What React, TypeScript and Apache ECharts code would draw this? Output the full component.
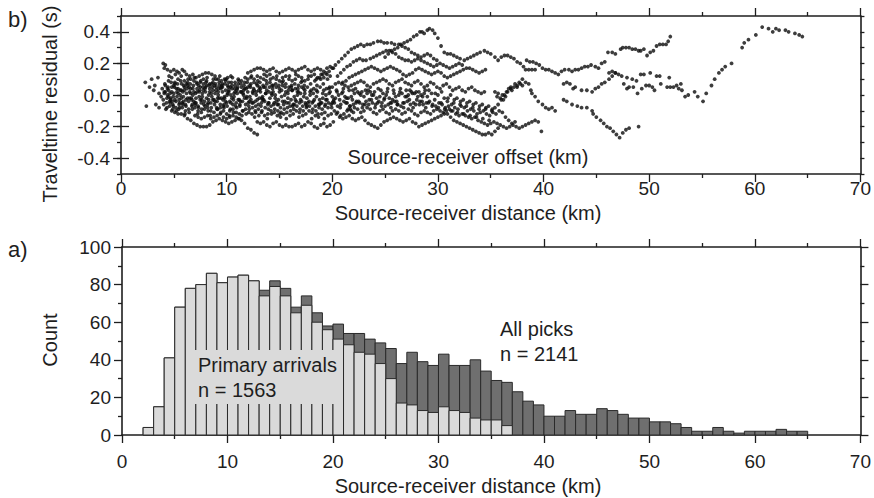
import React, { useEffect, useRef } from "react";
import * as echarts from "echarts";

// ---------- Histogram (panel a) ----------
const binStarts = [2,3,4,5,6,7,8,9,10,11,12,13,14,15,16,17,18,19,20,21,22,23,24,25,26,27,28,29,30,31,32,33,34,35,36,37,38,39,40,41,42,43,44,45,46,47,48,49,50,51,52,53,54,55,56,57,58,59,60,61,62,63,64];
const allPicksCounts = [4,15,41,68,78,80,86,81,84,85,82,77,82,78,68,74,65,58,59,54,54,51,49,46,38,44,39,37,43,37,37,40,34,29,28,23,18,16,10,10,13,11,11,14,13,11,9,9,7,7,6,4,2,2,4,2,1,2,2,2,3,2,2];
const primaryCounts = [4,15,41,68,78,80,86,81,84,85,82,74,79,74,65,69,60,56,51,48,44,43,38,30,17,16,13,12,15,13,12,9,8,8,5,0,0,0,0,0,0,0,0,0,0,0,0,0,0,0,0,0,0,0,0,0,0,0,0,0,0,0,0];
const binWidth = 1;

// ---------- Residuals (panel b), [distance km, residual s] pairs ----------
const residualStart = [2.3,0.08, 2.4,-0.07, 2.7,0.05, 2.9,0.10, 3.1,0.03, 3.2,0.06, 3.3,-0.06, 3.6,-0.08, 3.5,0.11];
const residualCoreA = [3.6,0.01, 3.9,0.04, 4.2,0.06, 4.5,0.03, 4.8,0.05, 5.1,0.07, 5.4,0.04, 5.7,0.03, 6.0,0.05, 6.3,0.06, 6.6,0.04, 6.9,0.02, 7.2,0.04, 7.5,0.05, 7.8,0.07, 8.1,0.06, 8.4,0.04, 8.7,0.03, 9.0,0.05, 9.3,0.06, 9.6,0.05, 9.9,0.03, 10.2,0.02, 10.5,0.04, 10.8,0.06, 11.1,0.07, 11.4,0.05, 11.7,0.04, 12.0,0.05, 12.3,0.07, 12.6,0.08, 12.9,0.06, 13.2,0.04, 13.5,0.05, 13.8,0.07, 14.1,0.08, 14.4,0.06, 14.7,0.05, 15.0,0.04, 15.3,0.06, 15.6,0.07, 15.9,0.05, 16.2,0.03, 16.5,0.04, 16.8,0.06, 17.1,0.05, 17.4,0.03];
const residualCoreB = [3.8,-0.01, 4.1,0.02, 4.4,0.00, 4.7,-0.02, 5.0,0.01, 5.3,0.02, 5.6,0.00, 5.9,-0.01, 6.2,0.01, 6.5,0.02, 6.8,0.00, 7.1,-0.02, 7.4,-0.01, 7.7,0.01, 8.0,0.02, 8.3,0.00, 8.6,-0.01, 8.9,0.01, 9.2,0.00, 9.5,-0.02, 9.8,-0.01, 10.1,0.01, 10.4,0.00, 10.7,-0.01, 11.0,0.01, 11.3,0.02, 11.6,0.00, 11.9,-0.02, 12.2,-0.01, 12.5,0.01, 12.8,0.00, 13.1,-0.02, 13.4,-0.01, 13.7,0.01, 14.0,0.02, 14.3,0.00, 14.6,-0.02, 14.9,-0.03, 15.2,-0.01, 15.5,0.00, 15.8,-0.02, 16.1,-0.03, 16.4,-0.01, 16.7,0.00, 17.0,0.01, 17.3,-0.01, 17.6,-0.02, 17.9,0.00, 18.2,0.01, 18.5,-0.01, 18.8,-0.03, 19.1,-0.02, 19.4,0.00, 19.7,0.01, 20.0,-0.01, 20.3,-0.02, 20.6,0.00, 20.9,0.01, 21.2,-0.01, 21.5,-0.02, 21.8,-0.01, 22.1,0.01, 22.4,0.02, 22.7,0.00, 23.0,-0.01, 23.3,0.01, 23.6,0.02, 23.9,0.00, 24.2,-0.02, 24.5,-0.01, 24.8,0.01, 25.1,0.00, 25.4,-0.02, 25.7,-0.03, 26.0,-0.01, 26.3,0.00, 26.6,0.01, 26.9,-0.01, 27.2,0.00, 27.5,0.02, 27.8,0.01, 28.1,-0.01, 28.4,0.00, 28.7,0.01, 29.0,-0.01];
const residualCoreC = [4.0,-0.03, 4.3,-0.05, 4.6,-0.04, 4.9,-0.06, 5.2,-0.04, 5.5,-0.03, 5.8,-0.05, 6.1,-0.06, 6.4,-0.04, 6.7,-0.03, 7.0,-0.05, 7.3,-0.07, 7.6,-0.05, 7.9,-0.04, 8.2,-0.06, 8.5,-0.05, 8.8,-0.03, 9.1,-0.04, 9.4,-0.06, 9.7,-0.07, 10.0,-0.05, 10.3,-0.04, 10.6,-0.06, 10.9,-0.05, 11.2,-0.03, 11.5,-0.04, 11.8,-0.06, 12.1,-0.07, 12.4,-0.05, 12.7,-0.04, 13.0,-0.06, 13.3,-0.05, 13.6,-0.04, 13.9,-0.06, 14.2,-0.07, 14.5,-0.05, 14.8,-0.06, 15.1,-0.08, 15.4,-0.06, 15.7,-0.05, 16.0,-0.07, 16.3,-0.06, 16.6,-0.04, 16.9,-0.05, 17.2,-0.07, 17.5,-0.06, 17.8,-0.04, 18.1,-0.05, 18.4,-0.07, 18.7,-0.06, 19.0,-0.05, 19.3,-0.07, 19.6,-0.08, 19.9,-0.06, 20.2,-0.05, 20.5,-0.07, 20.8,-0.06, 21.1,-0.04, 21.4,-0.05, 21.7,-0.07, 22.0,-0.06, 22.3,-0.04, 22.6,-0.05, 22.9,-0.06, 23.2,-0.04, 23.5,-0.03, 23.8,-0.05, 24.1,-0.06, 24.4,-0.04, 24.7,-0.05, 25.0,-0.07, 25.3,-0.06, 25.6,-0.05, 25.9,-0.04, 26.2,-0.06, 26.5,-0.07, 26.8,-0.05, 27.1,-0.04, 27.4,-0.06, 27.7,-0.05, 28.0,-0.03, 28.3,-0.04, 28.6,-0.06, 28.9,-0.05, 29.2,-0.04, 29.5,-0.06, 29.8,-0.07, 30.1,-0.05, 30.4,-0.06, 30.7,-0.08, 31.0,-0.07, 31.3,-0.06, 31.6,-0.08, 31.9,-0.09, 32.2,-0.07, 32.5,-0.08, 32.8,-0.10, 33.1,-0.09, 33.4,-0.10, 33.7,-0.12, 34.0,-0.11, 34.3,-0.10, 34.6,-0.12, 34.9,-0.13, 35.2,-0.11, 35.5,-0.12];
const residualCoreD = [4.5,0.09, 4.8,0.11, 5.1,0.08, 5.4,0.10, 5.7,0.12, 6.0,0.09, 6.3,0.08, 6.6,0.10, 6.9,0.09, 7.2,0.07, 7.5,0.08, 7.8,0.10, 8.1,0.09, 8.4,0.07, 8.7,0.08, 9.0,0.10, 9.3,0.08, 9.6,0.07, 9.9,0.09, 10.2,0.08, 10.5,0.06, 10.8,0.08, 11.1,0.10, 11.4,0.09, 11.7,0.08, 12.0,0.10, 12.3,0.11, 12.6,0.10, 12.9,0.12, 13.2,0.11, 13.5,0.10, 13.8,0.12, 14.1,0.13, 14.4,0.11, 14.7,0.10, 15.0,0.09, 15.3,0.11, 15.6,0.12, 15.9,0.10, 16.2,0.09, 16.5,0.10, 16.8,0.12, 17.1,0.11, 17.4,0.09, 17.7,0.10, 18.0,0.12, 18.3,0.13, 18.6,0.11, 18.9,0.10, 19.2,0.11, 19.5,0.13, 19.8,0.12];
const residualCoreE = [4.6,-0.07, 4.9,-0.09, 5.2,-0.08, 5.5,-0.06, 5.8,-0.08, 6.1,-0.10, 6.4,-0.09, 6.7,-0.07, 7.0,-0.08, 7.3,-0.10, 7.6,-0.11, 7.9,-0.09, 8.2,-0.08, 8.5,-0.10, 8.8,-0.11, 9.1,-0.09, 9.4,-0.08, 9.7,-0.10, 10.0,-0.12, 10.3,-0.10, 10.6,-0.09, 10.9,-0.11, 11.2,-0.12, 11.5,-0.10, 11.8,-0.09, 12.1,-0.11, 12.4,-0.12, 12.7,-0.10, 13.0,-0.09, 13.3,-0.11, 13.6,-0.13, 13.9,-0.12, 14.2,-0.10, 14.5,-0.11, 14.8,-0.13, 15.1,-0.14, 15.4,-0.12, 15.7,-0.11, 16.0,-0.13, 16.3,-0.12, 16.6,-0.10, 16.9,-0.11, 17.2,-0.13, 17.5,-0.12, 17.8,-0.10, 18.1,-0.11, 18.4,-0.13, 18.7,-0.14, 19.0,-0.12, 19.3,-0.11, 19.6,-0.13, 19.9,-0.12, 20.2,-0.10, 20.5,-0.11, 20.8,-0.13, 21.1,-0.12, 21.4,-0.10, 21.7,-0.09, 22.0,-0.11];
const residualCoreF = [4.2,0.02, 4.5,-0.01, 4.8,0.02, 5.1,-0.03, 5.4,0.01, 5.7,-0.02, 6.0,0.03, 6.3,-0.02, 6.6,0.01, 6.9,-0.04, 7.2,0.02, 7.5,-0.03, 7.8,0.03, 8.1,-0.02, 8.4,0.02, 8.7,-0.03, 9.0,0.03, 9.3,-0.02, 9.6,0.02, 9.9,-0.04, 10.2,0.03, 10.5,-0.02, 10.8,0.02, 11.1,-0.03, 11.4,0.02, 11.7,-0.02, 12.0,0.02, 12.3,-0.03, 12.6,0.03, 12.9,-0.03, 13.2,0.02, 13.5,-0.03, 13.8,0.03, 14.1,-0.02, 14.4,0.02, 14.7,-0.04, 15.0,0.02];
const residualCoreG = [4.35,-0.02, 4.65,0.01, 4.95,-0.01, 5.25,0.04, 5.55,-0.05, 5.85,0.02, 6.15,-0.03, 6.45,0.05, 6.75,-0.06, 7.05,0.01, 7.35,0.06, 7.65,-0.03, 7.95,0.04, 8.25,-0.05, 8.55,0.01, 8.85,0.06, 9.15,-0.02, 9.45,0.04, 9.75,-0.06, 10.05,0.00, 10.35,0.05, 10.65,-0.03, 10.95,0.03, 11.25,-0.06, 11.55,0.01, 11.85,0.04, 12.15,-0.04, 12.45,0.02, 12.75,-0.07, 13.05,0.03, 13.35,-0.02, 13.65,0.05, 13.95,-0.05, 14.25,0.01];
const residualCoreM = [4.15,0.07, 4.45,0.05, 4.75,0.08, 5.05,0.05, 5.35,0.07, 5.65,0.09, 5.95,0.06, 6.25,0.04, 6.55,0.07, 6.85,0.06, 7.15,0.08, 7.45,0.03, 7.75,0.05, 8.05,0.08, 8.35,0.06, 8.65,0.05, 8.95,0.07, 9.25,0.04, 9.55,0.06, 9.85,0.07, 10.15,0.05, 10.45,0.08, 10.75,0.04, 11.05,0.05, 11.35,0.07, 11.65,0.06, 11.95,0.08, 12.25,0.05, 12.55,0.04, 12.85,0.07, 13.15,0.08, 13.45,0.06, 13.75,0.09, 14.05,0.05, 14.35,0.04, 14.65,0.07, 14.95,0.06, 15.25,0.08, 15.55,0.05, 15.85,0.03, 16.15,0.06, 16.45,0.07, 16.75,0.04, 17.05,0.08, 17.35,0.06, 17.65,0.05, 17.95,0.07, 18.25,0.04, 18.55,0.06, 18.85,0.05, 19.15,0.07, 19.45,0.04, 19.75,0.05];
const residualCoreN = [4.05,-0.06, 4.35,-0.08, 4.65,-0.05, 4.95,-0.07, 5.25,-0.10, 5.55,-0.08, 5.85,-0.06, 6.15,-0.07, 6.45,-0.11, 6.75,-0.09, 7.05,-0.06, 7.35,-0.08, 7.65,-0.09, 7.95,-0.07, 8.25,-0.10, 8.55,-0.08, 8.85,-0.06, 9.15,-0.09, 9.45,-0.11, 9.75,-0.08, 10.05,-0.07, 10.35,-0.09, 10.65,-0.11, 10.95,-0.08, 11.25,-0.07, 11.55,-0.10, 11.85,-0.12, 12.15,-0.09, 12.45,-0.08, 12.75,-0.11, 13.05,-0.13, 13.35,-0.10, 13.65,-0.08, 13.95,-0.09, 14.25,-0.12, 14.55,-0.09, 14.85,-0.10, 15.15,-0.11, 15.45,-0.09, 15.75,-0.08, 16.05,-0.10, 16.35,-0.09, 16.65,-0.07, 16.95,-0.09, 17.25,-0.10, 17.55,-0.08, 17.85,-0.07, 18.15,-0.09, 18.45,-0.10, 18.75,-0.08, 19.05,-0.09, 19.35,-0.06, 19.65,-0.05, 19.95,-0.08];
const residualCoreP = [4.1,0.01, 4.4,0.04, 4.7,-0.03, 5.0,0.06, 5.3,-0.01, 5.6,0.03, 5.9,-0.04, 6.2,0.07, 6.5,-0.02, 6.8,0.04, 7.1,-0.05, 7.4,0.02, 7.7,-0.01, 8.0,0.05, 8.3,-0.03, 8.6,0.07, 8.9,-0.04, 9.2,0.02, 9.5,0.05, 9.8,-0.02, 10.1,0.06, 10.4,-0.05, 10.7,0.01, 11.0,0.04, 11.3,-0.04, 11.6,0.03, 11.9,-0.01, 12.2,0.06, 12.5,-0.05, 12.8,0.02, 13.1,0.05, 13.4,-0.03, 13.7,0.01, 14.0,-0.05, 14.3,0.06, 14.6,0.00, 14.9,-0.06, 15.2,0.03, 15.5,-0.04, 15.8,0.01, 16.1,0.05, 16.4,-0.06, 16.7,0.02, 17.0,-0.03, 17.3,0.04, 17.6,-0.07, 17.9,0.02, 18.2,-0.04, 18.5,0.03, 18.8,-0.06, 19.1,0.01, 19.4,-0.03, 19.7,0.04, 20.0,-0.05];
const residualCoreQ = [4.25,-0.09, 4.55,0.12, 4.85,-0.04, 5.15,0.13, 5.45,-0.09, 5.75,0.07, 6.05,-0.12, 6.35,0.10, 6.65,-0.02, 6.95,0.11, 7.25,-0.12, 7.55,0.09, 7.85,-0.06, 8.15,0.11, 8.45,-0.13, 8.75,0.10, 9.05,-0.08, 9.35,0.12, 9.65,-0.03, 9.95,0.10, 10.25,-0.13, 10.55,0.11, 10.85,-0.07, 11.15,0.09, 11.45,-0.13, 11.75,0.11, 12.05,-0.05, 12.35,0.12, 12.65,-0.14, 12.95,0.09, 13.25,-0.07, 13.55,0.13, 13.85,-0.15, 14.15,0.10, 14.45,-0.06, 14.75,0.12, 15.05,-0.12, 15.35,0.09, 15.65,-0.15, 15.95,0.12, 16.25,-0.07, 16.55,0.13, 16.85,-0.14, 17.15,0.09, 17.45,-0.05, 17.75,0.12, 18.05,-0.15, 18.35,0.09, 18.65,-0.12, 18.95,0.13, 19.25,-0.15, 19.55,0.10];
const residualCoreR = [20.15,-0.03, 20.45,0.02, 20.75,-0.08, 21.05,0.04, 21.35,-0.02, 21.65,-0.07, 21.95,0.03, 22.25,-0.05, 22.55,0.01, 22.85,-0.08, 23.15,0.03, 23.45,-0.06, 23.75,0.00, 24.05,-0.08, 24.35,0.04, 24.65,-0.07, 24.95,-0.02, 25.25,0.04, 25.55,-0.08, 25.85,0.01, 26.15,-0.06, 26.45,0.04, 26.75,-0.08, 27.05,-0.01, 27.35,0.03, 27.65,-0.08, 27.95,0.02, 28.25,-0.06, 28.55,-0.01, 28.85,-0.08, 29.15,0.03, 29.45,-0.07, 29.75,0.01, 30.05,-0.08, 30.35,0.02, 30.65,-0.09, 30.95,-0.02, 31.25,-0.10, 31.55,-0.03, 31.85,-0.11, 32.15,-0.04, 32.45,-0.12, 32.75,-0.05, 33.05,-0.13, 33.35,-0.06, 33.65,-0.14, 33.95,-0.07, 34.25,-0.15, 34.55,-0.08, 34.85,-0.16, 35.15,-0.09];
const residualUpperNear = [4.0,0.20, 4.2,0.19, 4.1,0.17, 4.4,0.16, 4.7,0.15, 5.0,0.16, 5.3,0.15, 5.5,0.14, 5.8,0.16, 6.0,0.15, 6.2,0.13, 6.5,0.12, 6.8,0.13, 7.1,0.11, 7.4,0.12, 7.7,0.13, 8.0,0.14, 8.3,0.14, 8.6,0.13, 8.9,0.12, 9.2,0.10, 9.5,0.09, 9.8,0.10, 10.1,0.11, 10.4,0.12];
const residualLowerNear = [4.8,-0.10, 5.1,-0.11, 5.4,-0.12, 5.7,-0.12, 6.0,-0.13, 6.3,-0.15, 6.6,-0.16, 6.9,-0.18, 7.2,-0.19, 7.5,-0.20, 7.8,-0.20, 8.1,-0.20, 8.4,-0.19, 8.7,-0.17, 9.0,-0.16, 9.3,-0.15, 9.6,-0.16, 9.9,-0.17, 10.2,-0.18, 10.5,-0.17, 10.8,-0.16, 11.1,-0.15, 11.4,-0.16, 11.7,-0.18, 12.0,-0.21, 12.3,-0.22, 12.6,-0.24, 12.9,-0.25];
const residualLowerNear2 = [7.0,-0.13, 7.3,-0.14, 7.6,-0.15, 7.9,-0.14, 8.2,-0.13, 8.5,-0.15, 8.8,-0.14, 9.1,-0.13, 9.4,-0.12, 9.7,-0.14, 10.0,-0.15, 10.3,-0.14, 10.6,-0.13, 10.9,-0.14, 11.2,-0.15];
const residualUpperMid = [12.0,0.14, 12.3,0.15, 12.6,0.16, 12.9,0.17, 13.2,0.17, 13.5,0.16, 13.8,0.15, 14.1,0.16, 14.4,0.17, 14.7,0.15, 15.0,0.14, 15.3,0.15, 15.6,0.16, 15.9,0.17, 16.2,0.16, 16.5,0.15, 16.8,0.16, 17.1,0.17, 17.4,0.18, 17.7,0.16, 18.0,0.15, 18.3,0.16, 18.6,0.17, 18.9,0.16, 19.2,0.15, 19.5,0.17, 19.8,0.18, 20.1,0.17];
const residualLowerMid = [12.9,-0.17, 13.2,-0.18, 13.5,-0.17, 13.8,-0.19, 14.1,-0.20, 14.4,-0.18, 14.7,-0.17, 15.0,-0.19, 15.3,-0.20, 15.6,-0.19, 15.9,-0.20, 16.2,-0.20, 16.5,-0.19, 16.8,-0.18, 17.1,-0.20, 17.4,-0.19, 17.7,-0.17, 18.0,-0.18, 18.3,-0.20, 18.6,-0.21, 18.9,-0.19, 19.2,-0.18, 19.5,-0.20, 19.8,-0.19, 20.1,-0.17];
const residualRise = [18.5,0.10, 18.8,0.11, 19.1,0.13, 19.4,0.14, 19.7,0.15, 20.0,0.17, 20.3,0.19, 20.6,0.21, 20.9,0.23, 21.2,0.25, 21.5,0.27, 21.8,0.29, 22.1,0.30, 22.4,0.31, 22.7,0.32, 23.0,0.31, 23.3,0.32, 23.6,0.32, 23.9,0.33, 24.3,0.34, 24.6,0.34, 24.9,0.33, 25.2,0.33, 25.6,0.33, 25.9,0.32, 26.3,0.32, 26.6,0.31, 26.9,0.30, 27.2,0.29, 27.5,0.27, 27.8,0.26, 28.1,0.25, 28.4,0.24, 28.7,0.25, 29.0,0.26, 29.3,0.25, 29.6,0.23, 29.9,0.22];
const residualPeak = [25.0,0.24, 25.3,0.26, 25.6,0.28, 25.9,0.29, 26.2,0.30, 26.5,0.32, 26.8,0.33, 27.1,0.34, 27.4,0.35, 27.7,0.37, 28.0,0.38, 28.3,0.40, 28.5,0.40, 28.7,0.39, 29.0,0.41, 29.2,0.42, 29.5,0.41, 29.7,0.39, 30.0,0.36, 30.3,0.31, 30.6,0.27, 30.9,0.26, 31.2,0.26, 31.5,0.25, 31.8,0.24, 32.1,0.23, 32.5,0.22, 32.8,0.23, 33.1,0.24, 33.4,0.25, 33.7,0.26, 34.0,0.27, 34.4,0.28, 34.7,0.27, 35.0,0.26, 35.4,0.24, 35.7,0.22];
const residualMid25 = [20.5,0.12, 20.8,0.14, 21.1,0.16, 21.4,0.18, 21.7,0.19, 22.0,0.21, 22.3,0.22, 22.6,0.23, 22.9,0.22, 23.2,0.22, 23.6,0.23, 23.9,0.24, 24.2,0.25, 24.5,0.26, 24.8,0.27, 25.1,0.28, 25.4,0.28, 25.7,0.27, 26.0,0.26, 26.3,0.24, 26.6,0.23, 26.9,0.22, 27.2,0.22, 27.5,0.21, 27.8,0.22, 28.1,0.23, 28.4,0.22, 28.7,0.21, 29.0,0.20, 29.3,0.19, 29.6,0.18, 29.9,0.19, 30.2,0.20, 30.5,0.19, 30.8,0.18, 31.1,0.17, 31.4,0.18, 31.7,0.19, 32.0,0.20, 32.3,0.19];
const residualMid15 = [21.0,0.08, 21.3,0.09, 21.6,0.11, 21.9,0.12, 22.2,0.13, 22.5,0.14, 22.8,0.15, 23.1,0.16, 23.4,0.17, 23.7,0.18, 24.0,0.17, 24.3,0.16, 24.6,0.15, 24.9,0.16, 25.2,0.17, 25.5,0.18, 25.8,0.17, 26.1,0.16, 26.4,0.15, 26.7,0.13, 27.0,0.12, 27.3,0.13, 27.6,0.14, 27.9,0.16, 28.2,0.17, 28.5,0.16, 28.8,0.15, 29.1,0.14, 29.4,0.13, 29.7,0.14, 30.0,0.15, 30.3,0.14, 30.6,0.12, 30.9,0.11, 31.2,0.12, 31.5,0.13, 31.8,0.14, 32.1,0.15, 32.4,0.16, 32.7,0.17, 33.0,0.17, 33.3,0.16, 33.6,0.15, 33.9,0.14, 34.2,0.15, 34.5,0.16];
const residualMid07 = [20.0,0.05, 20.3,0.07, 20.6,0.08, 20.9,0.07, 21.2,0.06, 21.5,0.05, 21.8,0.06, 22.1,0.07, 22.4,0.08, 22.7,0.09, 23.0,0.08, 23.3,0.06, 23.6,0.05, 23.9,0.07, 24.2,0.08, 24.5,0.09, 24.8,0.10, 25.1,0.09, 25.4,0.07, 25.7,0.06, 26.0,0.08, 26.3,0.09, 26.6,0.10, 26.9,0.08, 27.2,0.07, 27.5,0.06, 27.8,0.08, 28.1,0.09, 28.4,0.07, 28.7,0.05, 29.0,0.06, 29.3,0.08, 29.6,0.07, 29.9,0.05, 30.2,0.04, 30.5,0.06, 30.8,0.07, 31.1,0.05, 31.4,0.03, 31.7,0.04, 32.0,0.05, 32.3,0.03, 32.6,0.02, 32.9,0.04, 33.2,0.05, 33.5,0.03, 33.8,0.02, 34.1,0.01, 34.4,0.02];
const residualCoreFar = [15.3,-0.04, 15.6,0.02, 15.9,-0.05, 16.2,0.03, 16.5,-0.03, 16.8,0.02, 17.1,-0.04, 17.4,0.01, 17.7,-0.05, 18.0,0.03, 18.3,-0.03, 18.6,0.02, 18.9,-0.05, 19.2,0.03, 19.5,-0.03, 19.8,0.02, 20.1,-0.04, 20.4,0.03, 20.7,-0.03, 21.0,0.02, 21.3,-0.05, 21.6,0.03, 21.9,-0.03, 22.2,0.04, 22.5,-0.04, 22.8,0.02, 23.1,-0.06, 23.4,0.03, 23.7,-0.03, 24.0,0.02, 24.3,-0.05, 24.6,0.03, 24.9,-0.03, 25.2,0.02, 25.5,-0.05, 25.8,0.03, 26.1,-0.04, 26.4,0.02, 26.7,-0.05, 27.0,0.03, 27.3,-0.03, 27.6,0.01, 27.9,-0.06, 28.2,0.02, 28.5,-0.04, 28.8,0.03, 29.1,-0.05, 29.4,0.01, 29.7,-0.03, 30.0,0.00, 30.3,-0.05, 30.6,-0.02, 30.9,-0.04, 31.2,0.00, 31.5,-0.05, 31.8,-0.02, 32.1,-0.06, 32.4,-0.03, 32.7,-0.07, 33.0,-0.04, 33.3,-0.08, 33.6,-0.05, 33.9,-0.09, 34.2,-0.06, 34.5,-0.09, 34.8,-0.07, 35.1,-0.10, 35.4,-0.08, 35.7,-0.06, 36.0,-0.03, 36.3,0.00, 36.6,0.02, 36.9,0.04, 37.2,0.05, 37.5,0.06, 37.8,0.07];
const residualLowFar = [20.4,-0.12, 20.7,-0.14, 21.0,-0.15, 21.3,-0.14, 21.6,-0.13, 21.9,-0.15, 22.2,-0.16, 22.5,-0.15, 22.8,-0.14, 23.1,-0.16, 23.4,-0.18, 23.7,-0.19, 24.0,-0.20, 24.3,-0.21, 24.6,-0.19, 24.9,-0.17, 25.2,-0.16, 25.5,-0.15, 25.8,-0.14, 26.1,-0.15, 26.4,-0.16, 26.7,-0.17, 27.0,-0.16, 27.3,-0.15, 27.6,-0.17, 27.9,-0.18, 28.2,-0.20, 28.5,-0.19, 28.8,-0.18, 29.1,-0.17, 29.4,-0.16, 29.7,-0.15, 30.0,-0.14, 30.3,-0.13, 30.6,-0.12, 30.9,-0.12, 31.2,-0.14, 31.5,-0.16, 31.8,-0.17, 32.1,-0.18, 32.4,-0.19, 32.7,-0.20, 33.0,-0.21, 33.3,-0.22, 33.6,-0.23, 33.9,-0.24, 34.2,-0.25, 34.5,-0.25, 34.8,-0.24, 35.1,-0.25, 35.4,-0.23, 35.7,-0.21];
const residualLowFar2 = [21.5,-0.09, 21.8,-0.10, 22.1,-0.08, 22.4,-0.09, 22.7,-0.11, 23.0,-0.10, 23.3,-0.08, 23.6,-0.09, 23.9,-0.11, 24.2,-0.12, 24.5,-0.10, 24.8,-0.09, 25.1,-0.11, 25.4,-0.12, 25.7,-0.10, 26.0,-0.09, 26.3,-0.10, 26.6,-0.12, 26.9,-0.11, 27.2,-0.09, 27.5,-0.10, 27.8,-0.12, 28.1,-0.13, 28.4,-0.11, 28.7,-0.10, 29.0,-0.11, 29.3,-0.12, 29.6,-0.10, 29.9,-0.09, 30.2,-0.10, 30.5,-0.11, 30.8,-0.10, 31.1,-0.09, 31.4,-0.10, 31.7,-0.12, 32.0,-0.13, 32.3,-0.12, 32.6,-0.13, 32.9,-0.14, 33.2,-0.15, 33.5,-0.14, 33.8,-0.16, 34.1,-0.17, 34.4,-0.18, 34.7,-0.19, 35.0,-0.18, 35.3,-0.17, 35.6,-0.18, 35.9,-0.19, 36.2,-0.20, 36.5,-0.21, 36.8,-0.20, 37.1,-0.19, 37.4,-0.20, 37.7,-0.21, 38.0,-0.20, 38.3,-0.19, 38.6,-0.18, 38.9,-0.17, 39.2,-0.16, 39.5,-0.17, 39.8,-0.23];
const residual35to40 = [36.0,0.24, 36.3,0.25, 36.6,0.25, 36.9,0.24, 37.2,0.23, 37.5,0.21, 37.8,0.20, 38.1,0.18, 38.4,0.22, 38.7,0.21, 39.0,0.21, 39.3,0.20, 39.6,0.19, 35.4,0.02, 35.6,-0.01, 35.7,0.01, 35.9,-0.02, 36.1,0.00, 36.2,-0.03, 36.4,-0.01, 36.5,0.02, 36.7,0.04, 36.9,0.05, 37.0,0.03, 37.3,0.07, 37.5,0.05, 37.7,0.08, 38.0,0.06, 35.8,-0.10, 36.1,-0.11, 36.4,-0.14, 36.7,-0.16, 37.0,-0.18, 37.3,-0.17];
const residual38to47 = [38.3,0.16, 38.6,0.16, 38.9,0.16, 39.2,0.16, 39.9,0.17, 40.2,0.16, 40.5,0.16, 40.8,0.15, 41.1,0.14, 41.4,0.13, 41.7,0.15, 42.0,0.16, 42.4,0.16, 42.7,0.15, 43.0,0.16, 43.3,0.16, 43.6,0.17, 43.9,0.18, 44.2,0.18, 44.5,0.19, 44.9,0.18, 45.2,0.17, 45.5,0.20, 45.8,0.21, 46.2,0.14, 46.5,0.15, 46.8,0.14, 47.1,0.13];
const residualRise43 = [43.6,0.03, 44.1,0.03, 44.6,0.02, 44.9,0.04, 45.2,0.05, 45.5,0.07, 45.8,0.08, 46.2,0.10, 46.5,0.12, 46.8,0.14, 41.9,0.07, 42.2,0.08, 42.5,0.07, 42.8,0.04, 43.0,0.05];
const residualDescend = [38.0,0.10, 38.3,0.08, 38.6,0.07, 38.8,0.03, 38.9,0.01, 39.2,-0.01, 39.5,-0.04, 39.9,-0.06, 40.2,-0.08, 40.5,-0.09, 40.8,-0.08, 41.1,-0.10, 41.9,-0.03, 42.2,-0.04, 42.7,-0.06, 43.2,-0.07, 43.6,-0.08, 44.1,-0.08, 44.6,-0.10, 44.7,-0.12, 45.0,-0.14, 45.4,-0.16, 45.7,-0.18, 46.0,-0.20, 46.3,-0.21, 46.6,-0.23, 46.9,-0.25, 47.2,-0.27, 47.5,-0.24, 47.8,-0.22, 48.1,-0.21, 49.0,-0.20];
const residual46to52 = [46.1,0.27, 46.5,0.27, 46.8,0.26, 47.3,0.29, 47.5,0.30, 47.8,0.30, 48.1,0.30, 48.4,0.29, 48.7,0.29, 49.0,0.28, 49.2,0.28, 49.5,0.29, 49.8,0.25, 50.1,0.27, 50.4,0.28, 50.7,0.31, 51.0,0.32, 51.3,0.32, 51.6,0.32, 51.8,0.34, 52.0,0.37];
const residual47to52 = [47.4,0.12, 47.9,0.11, 48.4,0.10, 48.8,0.09, 49.2,0.13, 49.5,0.13, 50.1,0.14, 50.7,0.12, 51.0,0.12, 51.9,0.11];
const residual47to59 = [47.6,0.07, 48.1,0.05, 48.5,0.05, 47.9,0.04, 48.9,0.01, 49.3,0.04, 49.7,0.06, 50.0,0.06, 50.3,0.05, 50.5,0.03, 51.1,0.07, 51.7,0.05, 52.0,0.05, 52.3,0.05, 52.6,0.06, 52.8,0.04, 53.0,0.07, 53.1,0.03, 53.4,-0.01, 53.7,0.00, 54.3,0.02, 54.6,-0.01, 55.1,-0.04, 55.4,0.01, 55.9,0.06, 56.2,0.10, 56.6,0.14, 56.9,0.16, 57.2,0.18, 57.8,0.20, 58.8,0.30, 59.0,0.33];
const residual59to65 = [59.4,0.35, 60.1,0.38, 60.7,0.43, 61.3,0.42, 61.7,0.40, 62.0,0.42, 62.3,0.41, 62.9,0.41, 63.2,0.40, 63.8,0.39, 64.2,0.38, 64.5,0.37];

const residualTracks = [
  residualStart, residualCoreA, residualCoreB, residualCoreC, residualCoreD, residualCoreE,
  residualCoreF, residualCoreG, residualCoreM, residualCoreN, residualCoreP, residualCoreQ,
  residualCoreR, residualUpperNear, residualLowerNear,
  residualLowerNear2, residualUpperMid, residualLowerMid, residualRise, residualPeak, residualMid25,
  residualMid15, residualMid07, residualCoreFar, residualLowFar, residualLowFar2, residual35to40,
  residual38to47, residualRise43, residualDescend, residual46to52, residual47to52, residual47to59,
  residual59to65,
];

const FONT = "'Liberation Sans', Arial, Helvetica, sans-serif";
const INK = "#1e1e1e";
const LIGHT = "#dadada";
const DARK = "#6f6f6f";

function toPairs(flat: number[]): number[][] {
  const out: number[][] = [];
  for (let i = 0; i + 1 < flat.length; i += 2) out.push([flat[i], flat[i + 1]]);
  return out;
}

export default function App() {
  const ref = useRef<HTMLDivElement>(null);

  useEffect(() => {
    document.body.style.margin = "0";
    if (!ref.current) return;
    const chart = echarts.init(ref.current, undefined, { renderer: "svg" });

    const scatterData: number[][] = [];
    residualTracks.forEach((t) => toPairs(t).forEach((p) => scatterData.push(p)));

    const allData = binStarts.map((b, i) => [b, allPicksCounts[i]]);
    const primData = binStarts
      .map((b, i) => [b, primaryCounts[i]])
      .filter((d) => d[1] > 0);

    const line = { color: INK, width: 1.6 };
    const tickLine = { color: INK, width: 1.3 };

    const xBase = (grid: number, pos: "bottom" | "top", labels: boolean) => ({
      type: "value",
      gridIndex: grid,
      position: pos,
      min: 0,
      max: 70,
      interval: 10,
      axisLine: { show: true, onZero: false, lineStyle: line },
      axisTick: { show: true, length: 8, lineStyle: tickLine },
      minorTick: { show: true, splitNumber: 2, length: 4, lineStyle: tickLine },
      axisLabel: {
        show: labels,
        fontSize: 19,
        color: INK,
        fontFamily: FONT,
        margin: grid === 0 ? 5 : 17,
      },
      splitLine: { show: false },
      minorSplitLine: { show: false },
    });

    const resMajor = [-0.4, -0.2, 0, 0.2, 0.4];

    const renderBin = (fill: string) => (_p: any, api: any) => {
      const x0 = api.value(0);
      const v = api.value(1);
      const a = api.coord([x0, v]);
      const b = api.coord([x0 + binWidth, 0]);
      return {
        type: "rect",
        shape: { x: a[0], y: a[1], width: b[0] - a[0], height: b[1] - a[1] },
        style: { fill, stroke: "#2a2a2a", lineWidth: 1 },
      };
    };

    const option: any = {
      animation: false,
      backgroundColor: "#ffffff",
      grid: [
        { left: 121, top: 16, width: 741, height: 158 },
        { left: 122, top: 247, width: 741, height: 188 },
      ],
      xAxis: [
        xBase(0, "bottom", true),
        xBase(0, "top", false),
        xBase(1, "bottom", true),
        xBase(1, "top", false),
      ],
      yAxis: [
        {
          type: "value",
          gridIndex: 0,
          position: "left",
          min: -0.5,
          max: 0.5,
          interval: 0.1,
          axisLine: { show: true, onZero: false, lineStyle: line },
          axisTick: { show: true, length: 4, lineStyle: tickLine },
          axisLabel: {
            fontSize: 19,
            color: INK,
            fontFamily: FONT,
            margin: 11,
            formatter: (v: number) => {
              const k = Math.round(v * 10);
              return k % 2 === 0 && Math.abs(k) < 5 ? v.toFixed(1) : "";
            },
          },
          splitLine: { show: false },
        },
        {
          type: "value",
          gridIndex: 0,
          position: "left",
          min: -0.5,
          max: 0.5,
          axisLine: { show: false },
          axisTick: { show: true, length: 8, lineStyle: tickLine, customValues: resMajor },
          axisLabel: { show: false },
          splitLine: { show: false },
        },
        {
          type: "value",
          gridIndex: 0,
          position: "right",
          min: -0.5,
          max: 0.5,
          interval: 0.1,
          axisLine: { show: true, onZero: false, lineStyle: line },
          axisTick: { show: true, length: 4, lineStyle: tickLine },
          axisLabel: { show: false },
          splitLine: { show: false },
        },
        {
          type: "value",
          gridIndex: 0,
          position: "right",
          min: -0.5,
          max: 0.5,
          axisLine: { show: false },
          axisTick: { show: true, length: 8, lineStyle: tickLine, customValues: resMajor },
          axisLabel: { show: false },
          splitLine: { show: false },
        },
        {
          type: "value",
          gridIndex: 1,
          position: "left",
          min: 0,
          max: 100,
          interval: 20,
          axisLine: { show: true, onZero: false, lineStyle: line },
          axisTick: { show: true, length: 8, lineStyle: tickLine },
          minorTick: { show: true, splitNumber: 2, length: 4, lineStyle: tickLine },
          axisLabel: { fontSize: 19, color: INK, fontFamily: FONT, margin: 11 },
          splitLine: { show: false },
          minorSplitLine: { show: false },
        },
        {
          type: "value",
          gridIndex: 1,
          position: "right",
          min: 0,
          max: 100,
          interval: 20,
          axisLine: { show: true, onZero: false, lineStyle: line },
          axisTick: { show: true, length: 8, lineStyle: tickLine },
          minorTick: { show: true, splitNumber: 2, length: 4, lineStyle: tickLine },
          axisLabel: { show: false },
          splitLine: { show: false },
          minorSplitLine: { show: false },
        },
      ],
      series: [
        {
          type: "scatter",
          xAxisIndex: 0,
          yAxisIndex: 0,
          data: scatterData,
          symbol: "circle",
          symbolSize: 3.8,
          itemStyle: { color: "#0d0d0d" },
          silent: true,
          z: 3,
        },
        {
          type: "custom",
          xAxisIndex: 2,
          yAxisIndex: 4,
          data: allData,
          encode: { x: 0, y: 1 },
          silent: true,
          z: 2,
          renderItem: renderBin(DARK),
        },
        {
          type: "custom",
          xAxisIndex: 2,
          yAxisIndex: 4,
          data: primData,
          encode: { x: 0, y: 1 },
          silent: true,
          z: 3,
          renderItem: renderBin(LIGHT),
        },
      ],
      graphic: [
        { type: "text", left: 8, top: 8, style: { text: "b)", fontSize: 22, fontFamily: FONT, fill: INK } },
        { type: "text", left: 8, top: 238, style: { text: "a)", fontSize: 22, fontFamily: FONT, fill: INK } },
        {
          type: "text", x: 50, y: 104, rotation: Math.PI / 2,
          style: { text: "Traveltime residual (s)", fontSize: 20, fontFamily: FONT, fill: INK, align: "center", verticalAlign: "middle" },
        },
        {
          type: "text", x: 50, y: 340, rotation: Math.PI / 2,
          style: { text: "Count", fontSize: 20, fontFamily: FONT, fill: INK, align: "center", verticalAlign: "middle" },
        },
        {
          type: "text", x: 468, y: 157,
          style: { text: "Source-receiver offset (km)", fontSize: 20, fontFamily: FONT, fill: INK, align: "center", verticalAlign: "middle" },
        },
        {
          type: "text", x: 468, y: 213,
          style: { text: "Source-receiver distance (km)", fontSize: 20, fontFamily: FONT, fill: INK, align: "center", verticalAlign: "middle" },
        },
        {
          type: "text", x: 468, y: 486,
          style: { text: "Source-receiver distance (km)", fontSize: 20, fontFamily: FONT, fill: INK, align: "center", verticalAlign: "middle" },
        },
        {
          type: "text", x: 192, y: 350, z: 10,
          style: {
            text: "Primary arrivals\nn = 1563", fontSize: 20, lineHeight: 25, fontFamily: FONT, fill: INK,
            backgroundColor: LIGHT, padding: [2, 6, 2, 6],
          },
        },
        {
          type: "text", x: 500, y: 316, z: 10,
          style: { text: "All picks\nn = 2141", fontSize: 20, lineHeight: 25, fontFamily: FONT, fill: INK },
        },
      ],
    };

    chart.setOption(option);
    return () => chart.dispose();
  }, []);

  return <div ref={ref} style={{ width: 874, height: 498 }} />;
}
